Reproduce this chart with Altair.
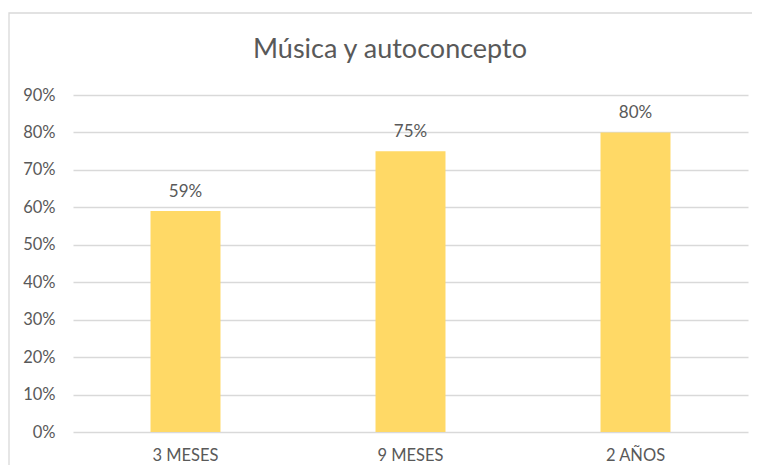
import altair as alt
import pandas as pd

categories = ["3 MESES", "9 MESES", "2 AÑOS"]
values = [0.59, 0.75, 0.80]
labels = ["59%", "75%", "80%"]
y_ticks = [0.0, 0.1, 0.2, 0.3, 0.4, 0.5, 0.6, 0.7, 0.8, 0.9]
title_text = "Música y autoconcepto"

df = pd.DataFrame({"cat": categories, "val": values, "lab": labels})

FONT = "Lato"
GREY = "#595959"

x_enc = alt.X("cat:N", sort=categories, title=None,
              scale=alt.Scale(paddingInner=0.689, paddingOuter=0.3445),
              axis=alt.Axis(labelAngle=0, ticks=False, domain=False,
                            labelColor=GREY, labelFont=FONT, labelFontSize=16.5,
                            labelPadding=15))

y_enc = alt.Y("val:Q", title=None,
              scale=alt.Scale(domain=[0, 0.9], nice=False),
              axis=alt.Axis(format=".0%", values=y_ticks,
                            ticks=False, domain=False, grid=True,
                            gridColor="#D9D9D9", gridWidth=1.3,
                            labelColor=GREY, labelFont=FONT, labelFontSize=16.5,
                            labelPadding=18))

base = alt.Chart(df)

frame = base.mark_rect(fill=None, stroke="#D9D9D9", strokeWidth=1.3).encode(
    x=alt.value(-64), x2=alt.value(720), y=alt.value(-82), y2=alt.value(420)
).transform_filter(alt.datum.cat == "3 MESES")

title = base.mark_text(font=FONT, fontSize=27, color=GREY, baseline="alphabetic",
                       align="center").encode(
    x=alt.value(317), y=alt.value(-37), text=alt.value(title_text)
).transform_filter(alt.datum.cat == "3 MESES")

bars = base.mark_bar(color="#FFD966").encode(x=x_enc, y=y_enc)

text = base.mark_text(baseline="alphabetic", dy=-14, font=FONT, fontSize=17,
                      color=GREY).encode(x=x_enc, y=y_enc, text="lab:N")

chart = alt.layer(frame, title, bars, text).properties(
    width=675, height=337,
    padding={"left": 65, "top": 87, "right": 4, "bottom": 33},
    autosize=alt.AutoSizeParams(type="none"),
    background="white",
).configure_view(stroke=None)

chart.save("out.html", embed_options={"renderer": "svg", "actions": False})
